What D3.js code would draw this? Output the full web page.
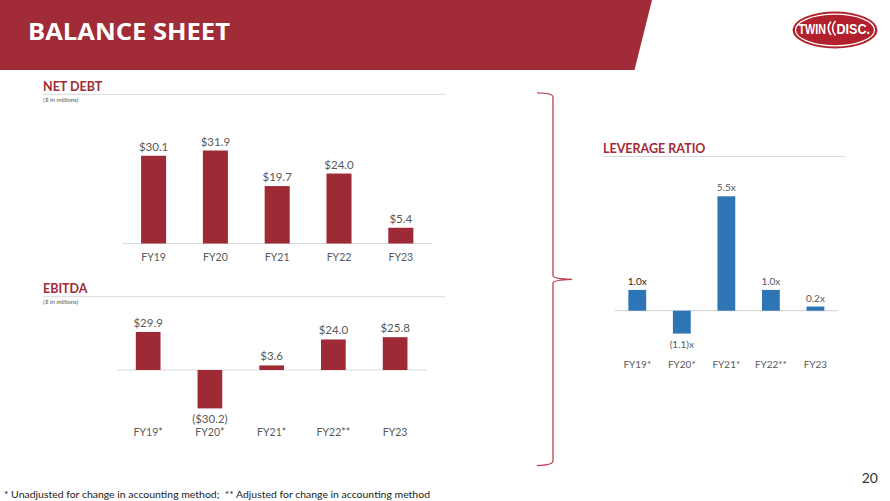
<!DOCTYPE html>
<html><head><meta charset="utf-8">
<script src="https://cdn.jsdelivr.net/npm/d3@7/dist/d3.min.js"></script>
<style>
html,body{margin:0;padding:0;background:#fff;}
svg{display:block;font-family:Lato,"Noto Sans",sans-serif;}
</style></head>
<body><svg id="c" width="890" height="501"></svg>
<script>
// ---- data ----
const netDebtCats = ["FY19","FY20","FY21","FY22","FY23"];
const netDebtVals = [30.1, 31.9, 19.7, 24.0, 5.4];
const ebitdaCats = ["FY19*","FY20*","FY21*","FY22**","FY23"];
const ebitdaVals = [29.9, -30.2, 3.6, 24.0, 25.8];
const levCats = ["FY19*","FY20*","FY21*","FY22**","FY23"];
const levVals = [1.0, -1.1, 5.5, 1.0, 0.2];

const RED = "#9E2A35", BLUE = "#2E75B6", GREY = "#595959";
const svg = d3.select("#c");

// header band
svg.append("path").attr("d","M0,0 L652,0 L634.5,70 L0,70 Z").attr("fill","#A12B36");
svg.append("text").attr("x",28).attr("y",39.5).attr("fill","#fff")
  .attr("font-size",24).attr("font-weight","bold").attr("font-family","'Open Sans',Lato,sans-serif")
  .attr("textLength",202).attr("lengthAdjust","spacingAndGlyphs").text("BALANCE SHEET");

// logo
const lg = svg.append("g");
lg.append("ellipse").attr("cx",835).attr("cy",30).attr("rx",42.5).attr("ry",18.5).attr("fill","#B21F2D");
lg.append("ellipse").attr("cx",835).attr("cy",30).attr("rx",39.5).attr("ry",15.8).attr("fill","none").attr("stroke","#fff").attr("stroke-width",1.2);
lg.append("text").attr("x",798.5).attr("y",34).attr("fill","#fff").attr("font-size",15.5).attr("font-weight","bold")
  .attr("font-family","'Liberation Sans Narrow','Liberation Sans',sans-serif").attr("textLength",27.5).attr("lengthAdjust","spacingAndGlyphs").text("TWIN");
lg.append("path").attr("d","M831,21.5 Q825.5,28 831,35").attr("fill","none").attr("stroke","#fff").attr("stroke-width",1.6);
lg.append("path").attr("d","M835.5,21 Q829.5,28 835.5,35.5").attr("fill","none").attr("stroke","#fff").attr("stroke-width",1.6);
lg.append("text").attr("x",836.5).attr("y",34).attr("fill","#fff").attr("font-size",15.5).attr("font-weight","bold")
  .attr("font-family","'Liberation Sans Narrow','Liberation Sans',sans-serif").attr("textLength",33.5).attr("lengthAdjust","spacingAndGlyphs").text("DISC.");

// section titles
function sectionTitle(x, y, x2, title, sub){
  svg.append("text").attr("x",x).attr("y",y).attr("fill","#A12B36").attr("font-size",12.5).attr("font-weight","bold").text(title);
  svg.append("line").attr("x1",x).attr("x2",x2).attr("y1",y+3.5).attr("y2",y+3.5).attr("stroke","#d9d9d9").attr("stroke-width",1);
  if(sub) svg.append("text").attr("x",x).attr("y",y+11).attr("fill",GREY).attr("font-size",6.5).attr("font-style","italic").text(sub);
}
sectionTitle(43, 90.8, 445, "NET DEBT", "($ in millions)");
sectionTitle(43, 293.2, 445, "EBITDA", "($ in millions)");
sectionTitle(603, 153, 845, "LEVERAGE RATIO", null);

// generic bar chart
function barChart(o){
  const x = d3.scaleBand().domain(o.cats).range(o.xr).paddingInner(o.pad).paddingOuter(o.pad/2);
  const y = d3.scaleLinear().domain(o.dom).range(o.yr);
  const g = svg.append("g");
  const y0 = y(0);
  g.append("line").attr("x1",o.xr[0]).attr("x2",o.xr[1]).attr("y1",y0).attr("y2",y0).attr("stroke","#d9d9d9").attr("stroke-width",1.2);
  g.selectAll("rect").data(o.vals).join("rect")
    .attr("x",(d,i)=>x(o.cats[i])).attr("width",x.bandwidth())
    .attr("y",d=>d>=0?y(d):y0).attr("height",d=>Math.abs(y(d)-y0))
    .attr("fill",o.color);
  g.selectAll("text.v").data(o.vals).join("text").attr("class","v")
    .attr("x",(d,i)=>x(o.cats[i])+x.bandwidth()/2)
    .attr("y",d=>d>=0?y(d)-5:y(d)+14.5)
    .attr("text-anchor","middle").attr("font-size",o.vfs).attr("fill",(d,i)=>o.vcol?o.vcol(i):GREY)
    .text(o.fmt);
  g.selectAll("text.c").data(o.cats).join("text").attr("class","c")
    .attr("x",d=>x(d)+x.bandwidth()/2).attr("y",o.catY)
    .attr("text-anchor","middle").attr("font-size",o.cfs).attr("fill",GREY).text(d=>d);
}

barChart({cats:netDebtCats, vals:netDebtVals, xr:[122.7,431.7], pad:0.595,
  dom:[0,35], yr:[243.5,243.5-35*2.915], color:RED, vfs:11.5, cfs:10.5, catY:260.5,
  fmt:d=>"$"+d.toFixed(1)});
barChart({cats:ebitdaCats, vals:ebitdaVals, xr:[117.3,426], pad:0.6,
  dom:[-35,35], yr:[370+35*1.272,370-35*1.272], color:RED, vfs:11.5, cfs:10.5, catY:436,
  fmt:d=>d<0?"($"+Math.abs(d).toFixed(1)+")":"$"+d.toFixed(1)});
barChart({cats:levCats, vals:levVals, xr:[615,837.7], pad:0.6,
  dom:[-2,6], yr:[310.7+2*20.8,310.7-6*20.8], color:BLUE, vfs:10, cfs:10, catY:368,
  vcol:i=>i===0?"#222":GREY,
  fmt:d=>d<0?"("+Math.abs(d).toFixed(1)+")x":d.toFixed(1)+"x"});

// brace
svg.append("path").attr("d","M537,92.8 Q553,93 553,97 L553,275.5 Q553,279 572,279.3 Q553,280 553,283 L553,461 Q553,465 537,465.6")
  .attr("fill","none").attr("stroke","#B8424F").attr("stroke-width",1.3);

// footnote & page
svg.append("text").attr("x",4).attr("y",497.5).attr("font-size",9.8).attr("fill","#222")
  .style("white-space","pre")
  .attr("textLength",426).attr("lengthAdjust","spacingAndGlyphs")
  .text("* Unadjusted for change in accounting method;  ** Adjusted for change in accounting method");
svg.append("text").attr("x",878).attr("y",483).attr("text-anchor","end").attr("font-size",14).attr("fill","#333").text("20");
</script></body></html>
